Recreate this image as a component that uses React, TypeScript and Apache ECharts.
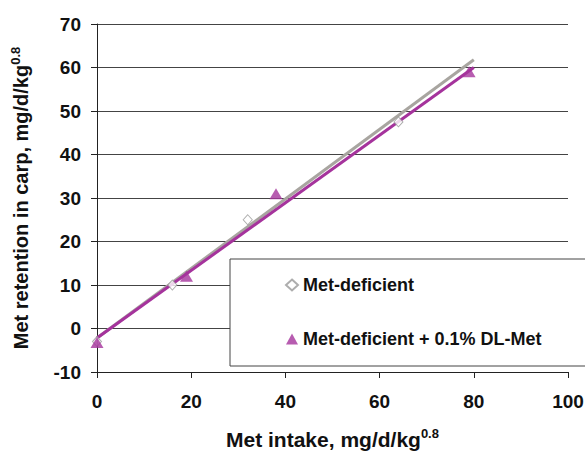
import React, { useEffect, useRef } from "react";
import * as echarts from "echarts";

const metDeficientX = [0, 16, 32, 64];
const metDeficientY = [-3, 10, 25, 47.5];
const metPlusX = [0, 19, 38, 79];
const metPlusY = [-3.2, 12, 31, 59];
const trendDeficientX = [0, 80];
const trendDeficientY = [-2.2, 61.8];
const trendPlusX = [0, 80];
const trendPlusY = [-2.2, 60];
const seriesNames = ["Met-deficient", "Met-deficient + 0.1% DL-Met"];
const xTicks = { min: 0, max: 100, interval: 20 };
const yTicks = { min: -10, max: 70, interval: 10 };

const FONT = "'Liberation Sans', Arial, sans-serif";
const PURPLE = "#A5339C";
const GREY_LINE = "#A8A5A0";

const zip = (xs: number[], ys: number[]) => xs.map((x, i) => [x, ys[i]]);

export default function App() {
  const ref = useRef<HTMLDivElement>(null);
  useEffect(() => {
    if (!ref.current) return;
    const chart = echarts.init(ref.current, null, { renderer: "svg" });
    chart.setOption({
      animation: false,
      backgroundColor: "#ffffff",
      textStyle: { fontFamily: FONT },
      grid: { left: 97, right: 17, top: 24, bottom: 79, containLabel: false, outerBoundsMode: "none" },
      legend: {
        data: seriesNames,
        orient: "vertical",
        left: 230,
        top: 259,
        padding: [16, 60, 17, 55],
        itemGap: 34,
        itemWidth: 12,
        itemHeight: 11,
        backgroundColor: "#ffffff",
        borderColor: "#444",
        borderWidth: 1,
        borderRadius: 0,
        textStyle: { fontFamily: FONT, fontWeight: "bold", fontSize: 18, color: "#111", lineHeight: 20 },
      },
      xAxis: {
        type: "value",
        min: xTicks.min,
        max: xTicks.max,
        interval: xTicks.interval,
        axisLine: { show: true, onZero: false, lineStyle: { color: "#222", width: 1 } },
        axisTick: { show: true, inside: false, length: 6, lineStyle: { color: "#222" } },
        splitLine: { show: false },
        axisLabel: { fontFamily: FONT, fontWeight: "bold", fontSize: 19, color: "#111", margin: 20 },
        name: "{m|Met intake, mg/d/kg}{s|0.8}",
        nameLocation: "middle",
        nameGap: 55,
        nameTextStyle: {
          rich: {
            m: { fontFamily: FONT, fontWeight: "bold", fontSize: 21, color: "#111", lineHeight: 24 },
            s: { fontFamily: FONT, fontWeight: "bold", fontSize: 13, color: "#111", verticalAlign: "top", lineHeight: 14 },
          },
        },
      },
      yAxis: {
        type: "value",
        min: yTicks.min,
        max: yTicks.max,
        interval: yTicks.interval,
        axisLine: { show: true, onZero: false, lineStyle: { color: "#222", width: 1 } },
        axisTick: { show: true, inside: false, length: 6, lineStyle: { color: "#222" } },
        splitLine: { show: true, lineStyle: { color: "#444", width: 1 } },
        axisLabel: { fontFamily: FONT, fontWeight: "bold", fontSize: 19, color: "#111", margin: 16 },
        name: "{m|Met retention in carp, mg/d/kg}{s|0.8}",
        nameLocation: "middle",
        nameGap: 64,
        nameTextStyle: {
          rich: {
            m: { fontFamily: FONT, fontWeight: "bold", fontSize: 20, color: "#111", lineHeight: 24 },
            s: { fontFamily: FONT, fontWeight: "bold", fontSize: 13, color: "#111", verticalAlign: "top", lineHeight: 14 },
          },
        },
      },
      series: [
        {
          name: "trend-deficient",
          type: "line",
          data: zip(trendDeficientX, trendDeficientY),
          showSymbol: false,
          symbol: "none",
          lineStyle: { color: GREY_LINE, width: 3 },
          z: 2,
        },
        {
          name: "trend-plus",
          type: "line",
          data: zip(trendPlusX, trendPlusY),
          showSymbol: false,
          symbol: "none",
          lineStyle: { color: PURPLE, width: 3 },
          z: 3,
        },
        {
          name: seriesNames[0],
          type: "scatter",
          data: zip(metDeficientX, metDeficientY),
          symbol: "diamond",
          symbolSize: [9, 10],
          itemStyle: { color: "#ffffff", borderColor: "#999", borderWidth: 1 },
          z: 4,
        },
        {
          name: seriesNames[1],
          type: "scatter",
          data: zip(metPlusX, metPlusY),
          symbol: "triangle",
          symbolSize: [13, 11],
          itemStyle: { color: PURPLE },
          z: 5,
        },
      ],
    });
    return () => chart.dispose();
  }, []);
  return <div ref={ref} style={{ width: 585, height: 451, position: "absolute", left: 0, top: 0 }} />;
}
